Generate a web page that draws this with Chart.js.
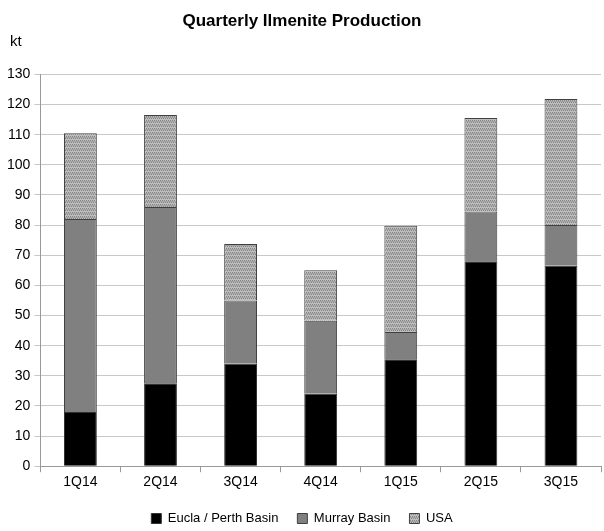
<!DOCTYPE html>
<html>
<head>
<meta charset="utf-8">
<script src="https://cdn.jsdelivr.net/npm/chart.js@4"></script>
<style>
  html, body { margin: 0; padding: 0; background: #fff; }
  #wrap { width: 604px; height: 531px; }
</style>
</head>
<body>
<div id="wrap"><canvas id="ilmChart"></canvas></div>
<script>
const quarters = ['1Q14', '2Q14', '3Q14', '4Q14', '1Q15', '2Q15', '3Q15'];
const euclaPerth = [18, 27.5, 34, 24, 35.5, 68, 66.5];
const murray = [64, 58.5, 21, 24.3, 9, 16.5, 13.5];
const usa = [28.5, 30.5, 18.7, 16.7, 35.3, 31, 41.8];
const yTicks = [0, 10, 20, 30, 40, 50, 60, 70, 80, 90, 100, 110, 120, 130];

const FONT = "'Liberation Sans Narrow', 'Arial Narrow', 'Liberation Sans', sans-serif";

// dotted fill for the USA series
function makeDots() {
    const c = document.createElement('canvas');
    c.width = 4; c.height = 4;
    const g = c.getContext('2d');
    g.fillStyle = '#bdbdbd';
    g.fillRect(0, 0, 4, 4);
    g.fillStyle = '#858585';
    g.fillRect(0, 0, 1, 1);
    g.fillRect(2, 0, 1, 1);
    g.fillRect(1, 2, 1, 1);
    g.fillRect(3, 2, 1, 1);
    g.fillStyle = '#a2a2a2';
    g.fillRect(0, 1, 4, 1);
    return g.createPattern(c, 'repeat');
}
const usaFill = makeDots();

// "kt" unit label above the y axis
const unitLabel = {
    id: 'unitLabel',
    afterDraw(chart) {
        const ctx = chart.ctx;
        ctx.save();
        ctx.font = '15px ' + FONT;
        ctx.fillStyle = '#000';
        ctx.textAlign = 'left';
        ctx.textBaseline = 'middle';
        ctx.fillText('kt', 10, 42);
        ctx.restore();
    }
};

const ctx = document.getElementById('ilmChart').getContext('2d');
new Chart(ctx, {
    type: 'bar',
    data: {
        labels: quarters,
        datasets: [
            { label: 'Eucla / Perth Basin', data: euclaPerth, backgroundColor: '#000000', borderColor: '#333', borderWidth: 1 },
            { label: 'Murray Basin', data: murray, backgroundColor: '#808080', borderColor: '#404040', borderWidth: 1 },
            { label: 'USA', data: usa, backgroundColor: usaFill, borderColor: '#404040', borderWidth: 1 }
        ]
    },
    plugins: [unitLabel],
    options: {
        responsive: true,
        maintainAspectRatio: false,
        animation: false,
        layout: { padding: { left: 3, right: 3, top: 0, bottom: -4 } },
        datasets: { bar: { barPercentage: 0.41, categoryPercentage: 1 } },
        plugins: {
            title: {
                display: true,
                text: 'Quarterly Ilmenite Production',
                color: '#000',
                font: { family: FONT, size: 17, weight: 'bold' },
                padding: { top: 11, bottom: 43 }
            },
            legend: {
                position: 'bottom',
                labels: {
                    color: '#000',
                    boxWidth: 10,
                    boxHeight: 10,
                    padding: 19,
                    font: { family: FONT, size: 13 }
                }
            },
            tooltip: { enabled: false }
        },
        scales: {
            x: {
                stacked: true,
                grid: { display: true, drawOnChartArea: false, offset: true, color: '#999', tickLength: 6 },
                border: { color: '#999' },
                ticks: { color: '#000', font: { family: FONT, size: 14 }, padding: 2 }
            },
            y: {
                stacked: true,
                min: 0,
                max: 130,
                afterBuildTicks(scale) { scale.ticks = yTicks.map(v => ({ value: v })); },
                grid: { color: '#c8c8c8', tickLength: 6 },
                border: { color: '#999' },
                ticks: { color: '#000', font: { family: FONT, size: 14 }, padding: 4 }
            }
        }
    }
});
</script>
</body>
</html>
